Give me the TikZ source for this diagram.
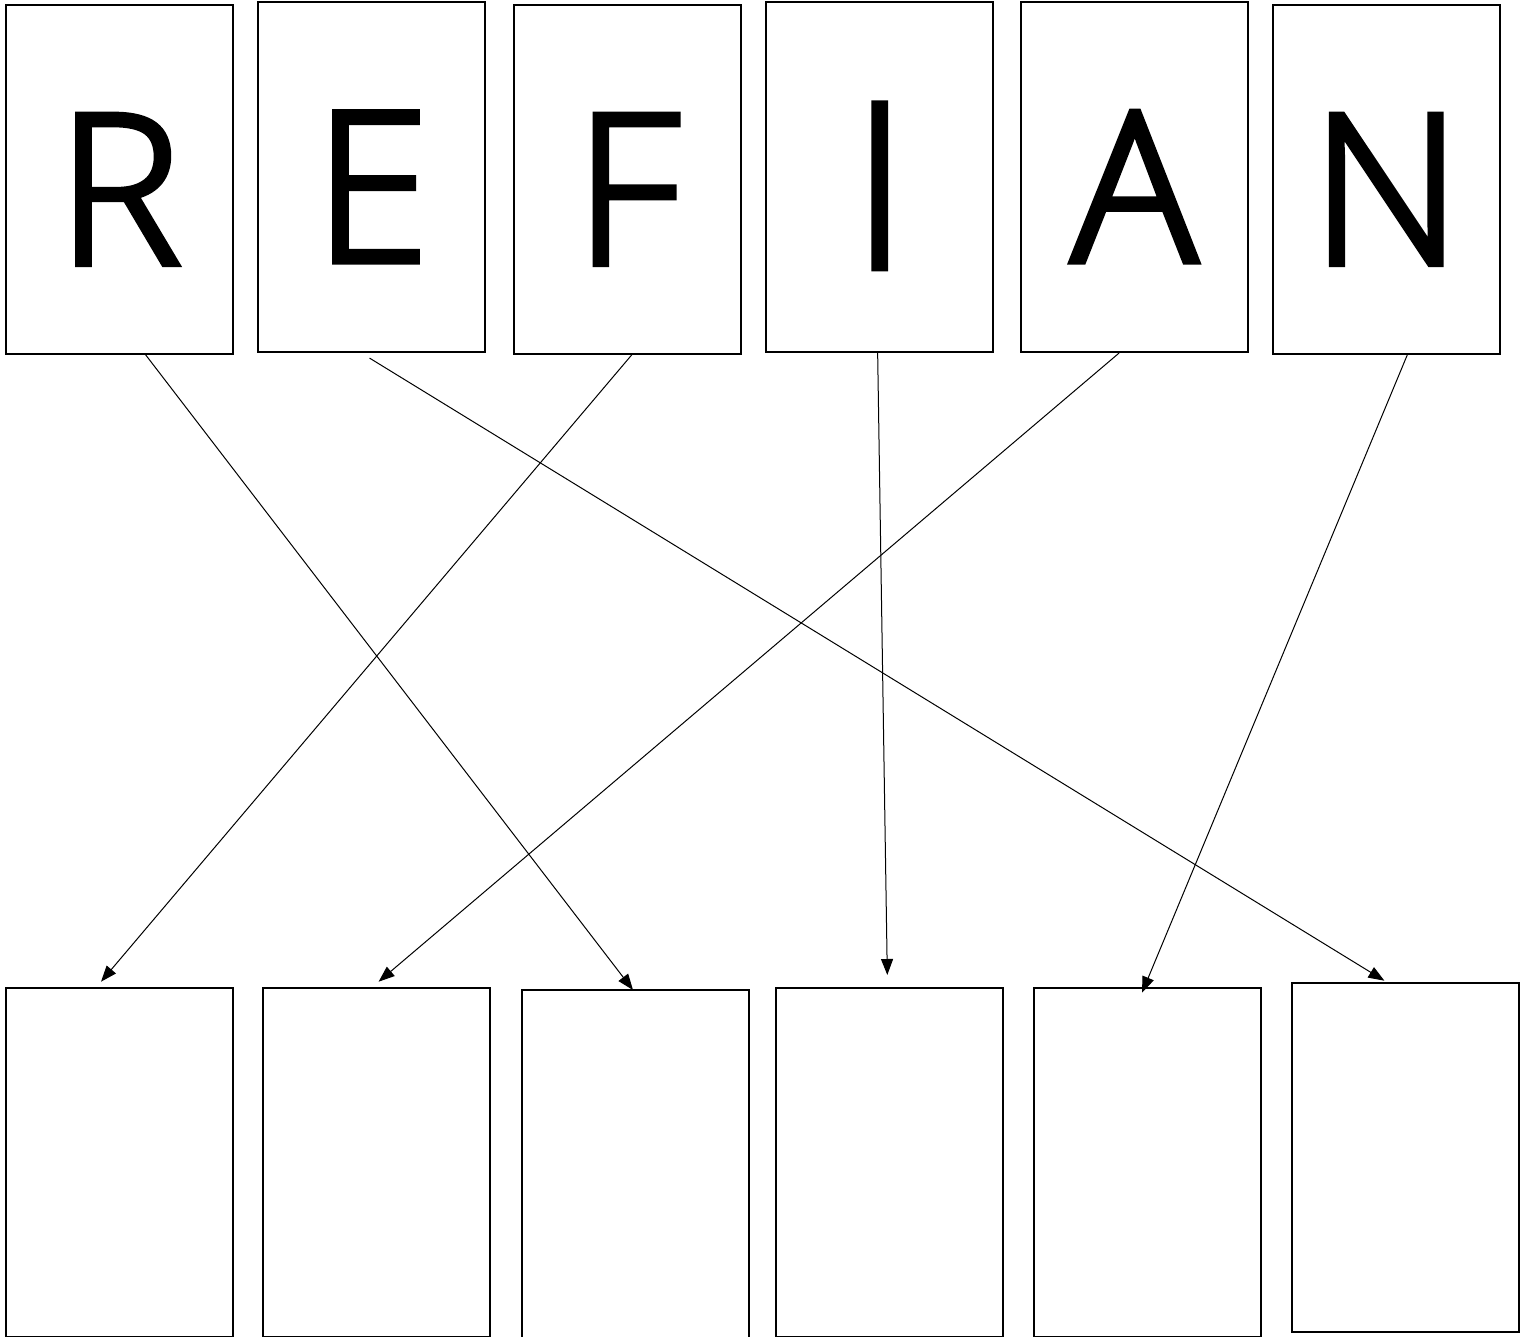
\documentclass[tikz,border=0pt]{standalone}
\usepackage{fontspec}
\IfFontExistsTF{Open Sans Light}{\setmainfont{Open Sans Light}[FakeBold=3]}{\setmainfont{Open Sans}}
\usetikzlibrary{arrows.meta}
\begin{document}
\begin{tikzpicture}[x=1pt,y=-1pt,
  box/.style={draw, line width=2pt, minimum width=227pt, minimum height=349pt,
    inner sep=0pt, outer sep=0pt, text height=169pt, text depth=0pt,
    font=\fontsize{209}{209}\selectfont},
  arr/.style={line width=1pt, -{Triangle[length=16pt,width=12pt]}}]
\useasboundingbox (0,0) rectangle (1525,1337);
% top row
\node[box] (R) at (119.25,179.5) {R};
\node[box] (E) at (371.85,177) {E};
\node[box] (F) at (627,179.4) {F};
\node[box, text height=182pt] (I) at (879.65,177) {\scalebox{1}[1.1]{I}};
\node[box] (A) at (1134.3,177) {A};
\node[box] (N) at (1386.3,179.4) {N};
% bottom row
\node[box] (b1) at (119.3,1162.5) {};
\node[box] (b2) at (376,1162.5) {};
\node[box] (b3) at (635,1164.5) {};
\node[box] (b4) at (889,1162.5) {};
\node[box] (b5) at (1147.3,1162.5) {};
\node[box] (b6) at (1405,1157.5) {};
% connectors
\draw[arr] ([xshift=25.75pt]R.south) -- ([xshift=-2pt]b3.north);
\draw[arr] ([xshift=-2.3pt,yshift=-6.6pt]E.south) -- ([xshift=-20.6pt,yshift=2.3pt]b6.north);
\draw[arr] ([xshift=4.7pt,yshift=-1pt]F.south) -- ([xshift=-18.3pt,yshift=6.3pt]b1.north);
\draw[arr] ([xshift=-2pt,yshift=-1.6pt]I.south) -- ([xshift=-1.7pt,yshift=13pt]b4.north);
\draw[arr] ([xshift=-15.3pt,yshift=-1.6pt]A.south) -- ([xshift=2.6pt,yshift=6.3pt]b2.north);
\draw[arr] ([xshift=21.4pt]N.south) -- ([xshift=-5.3pt,yshift=-4.7pt]b5.north);
\end{tikzpicture}
\end{document}
